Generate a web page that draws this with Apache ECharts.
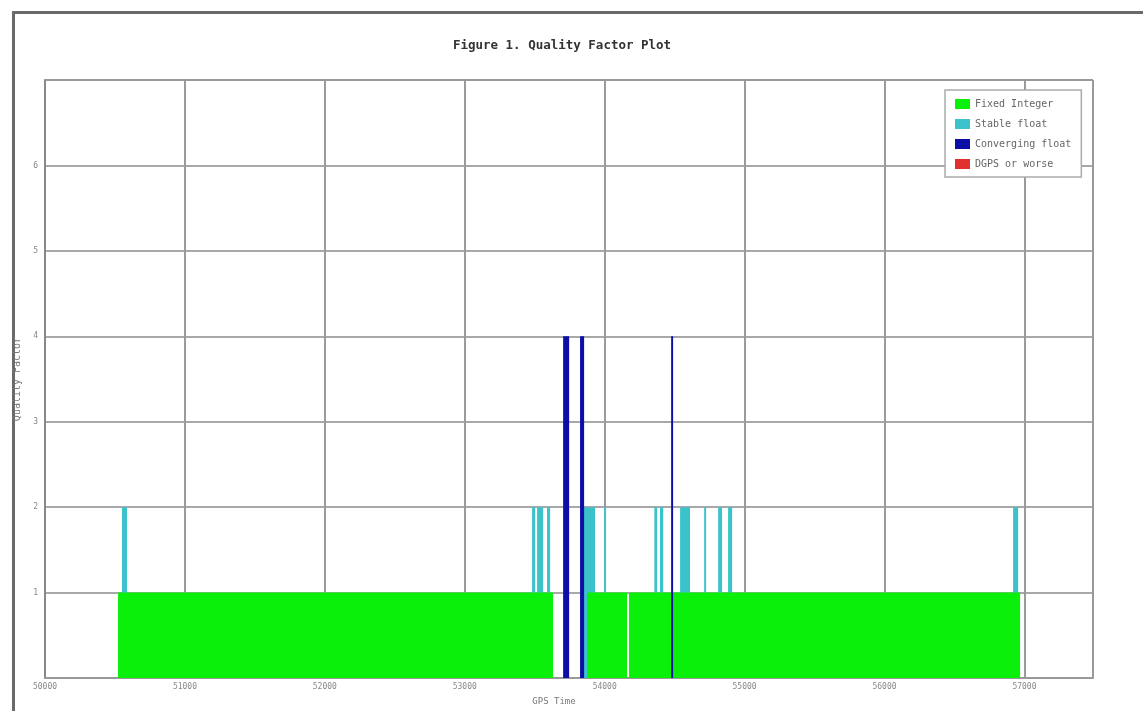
<!DOCTYPE html>
<html>
<head>
<meta charset="utf-8">
<script src="https://cdn.jsdelivr.net/npm/echarts@6/dist/echarts.min.js"></script>
<style>html,body{margin:0;padding:0;background:#fff;}#c{width:1143px;height:711px;}</style>
</head>
<body>
<div id="c"></div>
<script>
// Data (x: time, y: quality factor)
const xTickLabels = ['50000','51000','52000','53000','54000','55000','56000','57000'];
const yTickLabels = ['', '1', '2', '3', '4', '5', '6', ''];
const seriesNames = ['Fixed Integer', 'Stable float', 'Converging float', 'DGPS or worse'];
const qualityValues = [1, 2, 4, 5];
const fixedIntegerSegments = [[50522,53631],[53874,54160],[54174,56969]];
const stableFloatSegments = [[50550,50586],[53481,53503],[53517,53560],[53588,53610],[53846,53931],[53996,54010],[54355,54375],[54395,54418],[54539,54610],[54711,54725],[54811,54839],[54882,54911],[56919,56955]];
const convergingFloatSegments = [[53703,53746],[53824,53853],[54475,54489]];
const dgpsSegments = [];

const colors = ['#0af00a', '#3cc2ca', '#0d0da8', '#e03030'];

function mk(segs, q) { return segs.map(s => [s[0], s[1], q]); }

function renderBar(color) {
  return function (params, api) {
    const a = api.coord([api.value(0), 0]);
    const b = api.coord([api.value(1), api.value(2)]);
    return {
      type: 'rect',
      shape: { x: a[0], y: b[1], width: Math.max(b[0] - a[0], 1.5), height: a[1] - b[1] },
      style: { fill: color }
    };
  };
}

const segLists = [fixedIntegerSegments, stableFloatSegments, convergingFloatSegments, dgpsSegments];
const zOrder = [3, 2, 4, 5];
const series = seriesNames.map((n, i) => ({
  name: n,
  type: 'custom',
  renderItem: renderBar(colors[i]),
  encode: { x: [0, 1], y: 2 },
  data: mk(segLists[i], qualityValues[i]),
  itemStyle: { color: colors[i] },
  z: zOrder[i]
}));

const chart = echarts.init(document.getElementById('c'), null, { renderer: 'canvas' });
chart.setOption({
  animation: false,
  color: colors,
  title: {
    text: 'Figure 1. Quality Factor Plot',
    left: 557, top: 34, textAlign: 'center',
    textStyle: { fontFamily: 'DejaVu Sans Mono', fontSize: 12.5, fontWeight: 'bold', color: '#333' }
  },
  graphic: [{
    type: 'rect', silent: true, z: 0,
    shape: { x: 13.5, y: 12.5, width: 1200, height: 800 },
    style: { fill: null, stroke: '#6a6a6a', lineWidth: 3 }
  }],
  legend: {
    orient: 'vertical', left: 945, top: 90,
    padding: [9, 10, 8, 10],
    itemWidth: 15, itemHeight: 10, itemGap: 10,
    icon: 'rect',
    borderColor: '#aaa', borderWidth: 1.5, backgroundColor: '#fff',
    textStyle: { fontFamily: 'DejaVu Sans Mono', fontSize: 10, color: '#666', padding: [0, 4, 0, 0] },
    data: seriesNames
  },
  grid: { left: 45, right: 50, top: 80, bottom: 30, containLabel: false },
  xAxis: {
    type: 'value', min: 50000, max: 57490, interval: 1000,
    name: 'GPS Time', nameLocation: 'middle', nameGap: 19,
    nameTextStyle: { fontFamily: 'DejaVu Sans Mono', fontSize: 9, color: '#777', padding: [0, 30, 0, 0] },
    axisLine: { show: true, lineStyle: { color: '#999', width: 2 } },
    axisTick: { show: false },
    axisLabel: {
      fontFamily: 'DejaVu Sans Mono', fontSize: 8, color: '#888', margin: 5,
      showMaxLabel: false,
      formatter: (v) => { const i = Math.round((v - 50000) / 1000); return (Math.abs(v - 50000 - i*1000) < 1 && xTickLabels[i]) ? xTickLabels[i] : ''; }
    },
    splitLine: { show: true, lineStyle: { color: '#9a9a9a', width: 2 } }
  },
  yAxis: {
    type: 'value', min: 0, max: 7, interval: 1,
    name: 'Quality Factor', nameLocation: 'middle', nameGap: 12,
    nameTextStyle: { fontFamily: 'DejaVu Sans Mono', fontSize: 10, color: '#777' },
    axisLine: { show: true, lineStyle: { color: '#888', width: 2 } },
    axisTick: { show: false },
    axisLabel: {
      fontFamily: 'DejaVu Sans Mono', fontSize: 8, color: '#888', margin: 7,
      formatter: (v) => yTickLabels[Math.round(v)] || ''
    },
    splitLine: { show: true, lineStyle: { color: '#a8a8a8', width: 2 } }
  },
  series: series.concat([{
    type: 'line', data: [], silent: true,
    markLine: { symbol: 'none', silent: true, label: { show: false },
      lineStyle: { color: '#999', width: 2, type: 'solid' },
      data: [{ xAxis: 57490 }, { yAxis: 7 }] }
  }])
});
</script>
</body>
</html>
